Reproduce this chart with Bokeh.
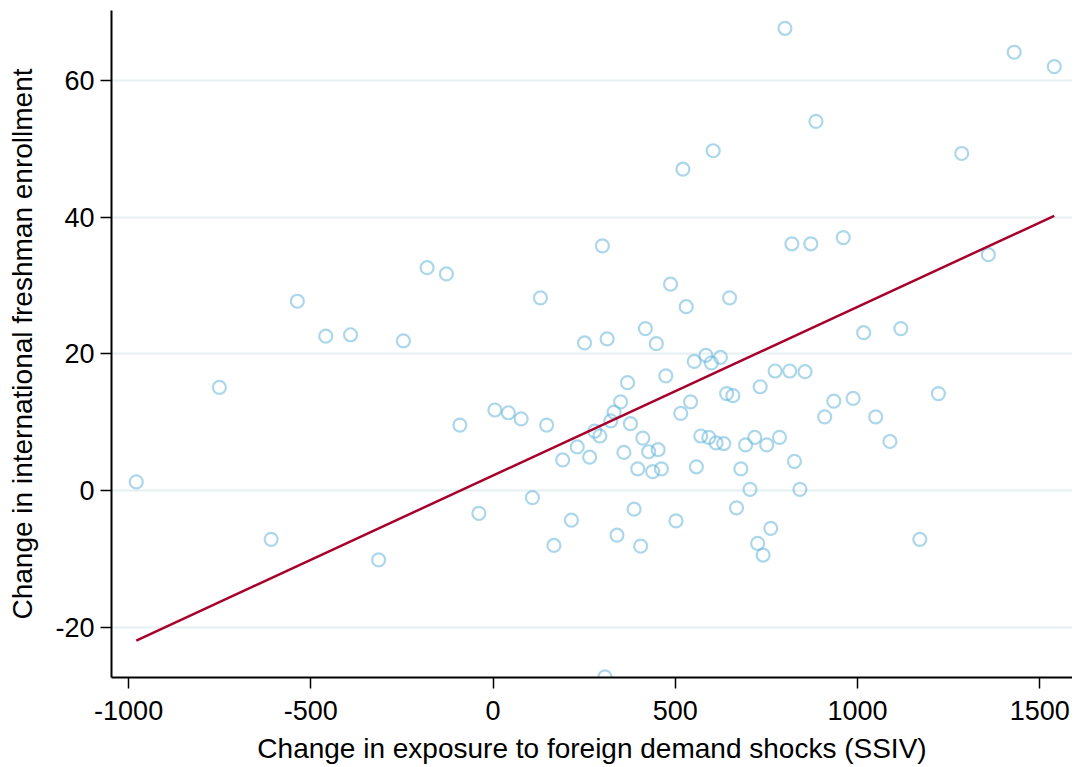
from bokeh.plotting import figure
from bokeh.models import FixedTicker, Range1d, ColumnDataSource
from bokeh.embed import file_html
from bokeh.resources import INLINE

ssiv = [-979, -751, -609, -537, -459, -391, -314, -246, -181, -128,
        -91, -39, 5, 42, 77, 108, 130, 147, 167, 191,
        215, 231, 251, 265, 279, 293, 300, 307, 313, 323,
        332, 340, 350, 359, 369, 377, 387, 397, 405, 411,
        418, 427, 438, 448, 453, 462, 474, 487, 502, 515,
        521, 530, 542, 552, 558, 570, 584, 592, 599, 604,
        612, 624, 633, 641, 649, 658, 668, 680, 693, 705,
        718, 726, 733, 741, 751, 762, 774, 786, 801, 814,
        820, 827, 842, 856, 872, 886, 910, 935, 961, 988,
        1017, 1050, 1089, 1119, 1171, 1222, 1286, 1359, 1430, 1540]
enroll = [1.3, 15.1, -7.1, 27.7, 22.6, 22.8, -10.1, 21.9, 32.6, 31.7,
          9.6, -3.3, 11.8, 11.4, 10.5, -1.0, 28.2, 9.6, -8.0, 4.5,
          -4.3, 6.4, 21.6, 4.9, 8.7, 8.0, 35.8, -27.2, 22.2, 10.2,
          11.5, -6.5, 13.0, 5.6, 15.8, 9.8, -2.7, 3.2, -8.1, 7.7,
          23.7, 5.7, 2.8, 21.5, 6.0, 3.2, 16.8, 30.2, -4.4, 11.3,
          47.0, 26.9, 13.0, 18.9, 3.5, 8.0, 19.8, 7.8, 18.7, 49.7,
          7.0, 19.5, 6.9, 14.2, 28.2, 13.9, -2.5, 3.2, 6.7, 0.2,
          7.8, -7.7, 15.2, -9.4, 6.7, -5.5, 17.5, 7.8, 67.6, 17.5,
          36.1, 4.3, 0.2, 17.4, 36.1, 54.0, 10.8, 13.1, 37.0, 13.5,
          23.1, 10.8, 7.2, 23.7, -7.1, 14.2, 49.3, 34.5, 64.1, 62.0]

fit_intercept = 2.23
fit_slope = 0.02465

x_ticks = [-1000, -500, 0, 500, 1000, 1500]
y_ticks = [-20, 0, 20, 40, 60]

FONT = "Liberation Sans"

p = figure(width=1072, height=766, output_backend="svg", toolbar_location=None,
           x_range=Range1d(-1047, 1590), y_range=Range1d(-27.3, 70.2),
           min_border_left=111, min_border_top=10, min_border_right=0,
           min_border_bottom=87)
p.outline_line_color = None
p.background_fill_color = "white"

src = ColumnDataSource(dict(x=ssiv, y=enroll))
p.scatter("x", "y", source=src, marker="circle", size=13, fill_color=None,
          line_color=(95, 178, 214), line_alpha=0.52, line_width=2.2)

fx = [min(ssiv), max(ssiv)]
fy = [fit_intercept + fit_slope * v for v in fx]
p.line(fx, fy, line_color="#a8002d", line_width=2.5)

p.xgrid.visible = False
p.ygrid.ticker = FixedTicker(ticks=y_ticks)
p.ygrid.grid_line_color = "#e6eff2"
p.ygrid.grid_line_width = 2

for ax, ticks in ((p.xaxis[0], x_ticks), (p.yaxis[0], y_ticks)):
    ax.ticker = FixedTicker(ticks=ticks)
    ax.major_label_overrides = {t: str(t) for t in ticks}
    ax.minor_tick_line_color = None
    ax.major_tick_in = 0
    ax.major_tick_out = 11
    ax.major_tick_line_width = 1.5
    ax.major_tick_line_color = "black"
    ax.axis_line_color = "black"
    ax.axis_line_width = 2
    ax.major_label_text_font = FONT
    ax.major_label_text_font_size = "27px"
    ax.major_label_text_color = "black"
    ax.axis_label_text_font = FONT
    ax.axis_label_text_font_size = "28px"
    ax.axis_label_text_font_style = "normal"
    ax.axis_label_text_color = "black"

p.xaxis.axis_label = "Change in exposure to foreign demand shocks (SSIV)"
p.yaxis.axis_label = "Change in international freshman enrollment"
p.xaxis.major_label_standoff = 12
p.yaxis.major_label_standoff = 6
p.xaxis.axis_label_standoff = 10
p.yaxis.axis_label_standoff = 14
p.yaxis.major_label_orientation = "horizontal"

open("out.html", "w").write(file_html(p, INLINE))
